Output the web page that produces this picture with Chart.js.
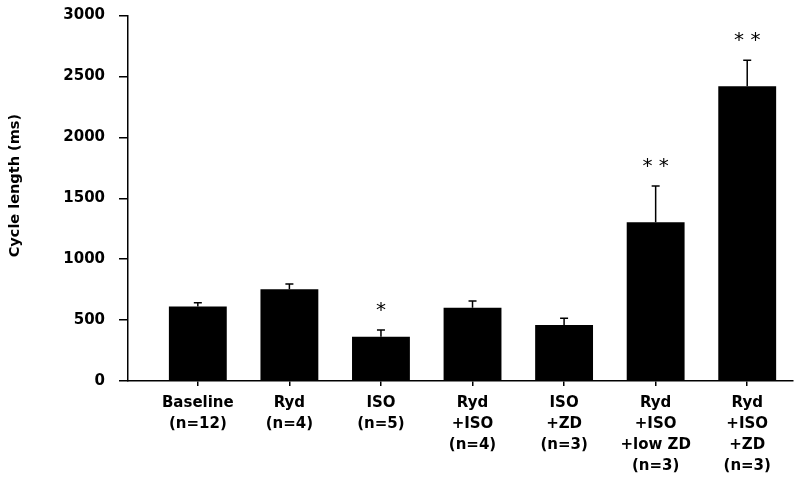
<!DOCTYPE html>
<html>
<head>
<meta charset="utf-8">
<script src="https://cdn.jsdelivr.net/npm/chart.js@4.4.0/dist/chart.umd.min.js"></script>
<style>
  html, body { margin: 0; padding: 0; background: #fff; }
  #wrap { width: 800px; height: 485px; }
</style>
</head>
<body>
<div id="wrap"><canvas id="cycleChart" width="800" height="485"></canvas></div>
<script>
const groups = [
  ["Baseline", "(n=12)"],
  ["Ryd", "(n=4)"],
  ["ISO", "(n=5)"],
  ["Ryd", "+ISO", "(n=4)"],
  ["ISO", "+ZD", "(n=3)"],
  ["Ryd", "+ISO", "+low ZD", "(n=3)"],
  ["Ryd", "+ISO", "+ZD", "(n=3)"],
];
const cycleLength = [611, 754, 364, 602, 460, 1304, 2419];
const sem = [32, 43, 55, 55, 55, 296, 214];
const marks = ["", "", "*", "", "", "* *", "* *"];
const yTicks = [0, 500, 1000, 1500, 2000, 2500, 3000];

const tickFont = { family: "'DejaVu Sans', sans-serif", size: 15, weight: "bold" };

// error bars (upper only) and significance stars
const errorBars = {
  id: "errorBars",
  afterDatasetsDraw(chart) {
    const { ctx } = chart;
    const xs = chart.scales.x;
    const ys = chart.scales.y;
    ctx.save();
    ctx.strokeStyle = "#000";
    ctx.lineWidth = 1.5;
    cycleLength.forEach((v, i) => {
      const x = xs.getPixelForValue(i);
      const yBar = ys.getPixelForValue(v);
      const yTop = ys.getPixelForValue(v + sem[i]);
      ctx.beginPath();
      ctx.moveTo(x, yBar);
      ctx.lineTo(x, yTop);
      ctx.moveTo(x - 4, yTop);
      ctx.lineTo(x + 4, yTop);
      ctx.stroke();
      if (marks[i]) {
        ctx.fillStyle = "#000";
        ctx.font = "20px 'DejaVu Sans', sans-serif";
        ctx.textAlign = "center";
        ctx.textBaseline = "middle";
        ctx.fillText(marks[i], x, yTop - 19);
      }
    });
    ctx.restore();
  },
};

const ctx = document.getElementById("cycleChart").getContext("2d");
new Chart(ctx, {
  type: "bar",
  data: {
    datasets: [
      {
        data: cycleLength.map((v, i) => ({ x: i, y: v })),
        backgroundColor: "#000",
        borderWidth: 0,
        barPercentage: 0.632,
        categoryPercentage: 1,
      },
    ],
  },
  options: {
    responsive: false,
    animation: false,
    layout: { padding: { top: 15.5, right: 7, left: 0, bottom: 0 } },
    plugins: {
      legend: { display: false },
      tooltip: { enabled: false },
    },
    scales: {
      x: {
        type: "linear",
        offset: false,
        min: -0.7626,
        max: 6.5,
        afterFit: (scale) => { scale.height = 104; },
        grid: { offset: false, drawOnChartArea: false, drawTicks: true, tickLength: 5, color: "#000", lineWidth: 1.5 },
        border: { color: "#000", width: 1.5 },
        ticks: {
          stepSize: 1,
          includeBounds: false,
          autoSkip: false,
          maxRotation: 0,
          minRotation: 0,
          padding: 7,
          color: "#000",
          font: { ...tickFont, lineHeight: 1.4 },
          callback: (value) => (Number.isInteger(value) && groups[value] ? groups[value] : ""),
        },
      },
      y: {
        min: 0,
        max: 3000,
        afterFit: (scale) => {
          scale.width = 128;
          scale.paddingTop = 0;
          scale.paddingBottom = 0;
        },
        afterBuildTicks: (scale) => { scale.ticks = yTicks.map((v) => ({ value: v })); },
        grid: { drawOnChartArea: false, drawTicks: true, tickLength: 9, color: "#000", lineWidth: 1.5 },
        border: { color: "#000", width: 1.5 },
        ticks: { color: "#000", padding: 14, font: tickFont, callback: (value) => String(value) },
        title: {
          display: true,
          text: "     Cycle length (ms)",
          color: "#000",
          padding: { top: 7, bottom: 4 },
          font: { family: "'DejaVu Sans', sans-serif", size: 14.5, weight: "bold" },
        },
      },
    },
  },
  plugins: [errorBars],
});
</script>
</body>
</html>
